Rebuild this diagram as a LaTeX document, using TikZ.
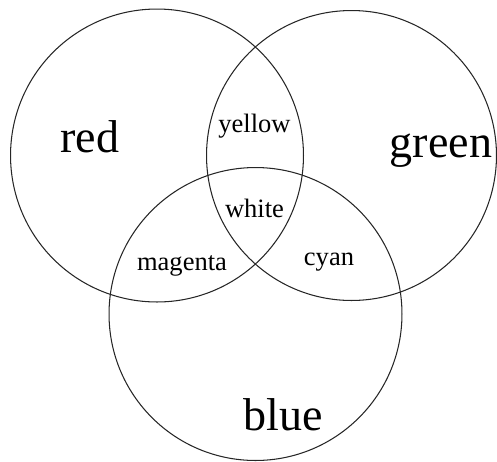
\documentclass[tikz,border=0pt]{standalone}
\usepackage{fontspec}
\setmainfont{Liberation Serif}
\usetikzlibrary{positioning}

\begin{document}
\begin{tikzpicture}[x=0.02cm,y=-0.02cm]

		\tikzset{ring/.style={draw=black!85,line width=0.6pt,shape=circle,inner sep=0pt}}
		\tikzset{big/.style={anchor=base,inner sep=0pt,font=\fontsize{26.2}{30}\selectfont}}
		\tikzset{small/.style={anchor=base,inner sep=0pt,font=\fontsize{15.1}{18}\selectfont}}

		\useasboundingbox (0,0) rectangle (497,461);

		% the three sets
		\node[ring, minimum size=5.86cm] (cred) at (157,155.5) {};
		\node[ring, minimum size=5.80cm] (cgreen) at (351.5,155.5) {};
		\node[ring, minimum size=5.86cm] (cblue) at (255.5,314) {};

		% labels
		\node[big] (red) at (90,152) {red};
		\node[big] (green) at (441,157) {green};
		\node[big] (blue) at (283.5,430) {blue};

		\node[small] (yellow) at (254.5,132) {yellow};
		\node[small] (white) at (254.5,217) {white};
		\node[small] (magenta) at (182,270) {magenta};
		\node[small] (cyan) at (329,265) {cyan};

	\end{tikzpicture}
\end{document}
